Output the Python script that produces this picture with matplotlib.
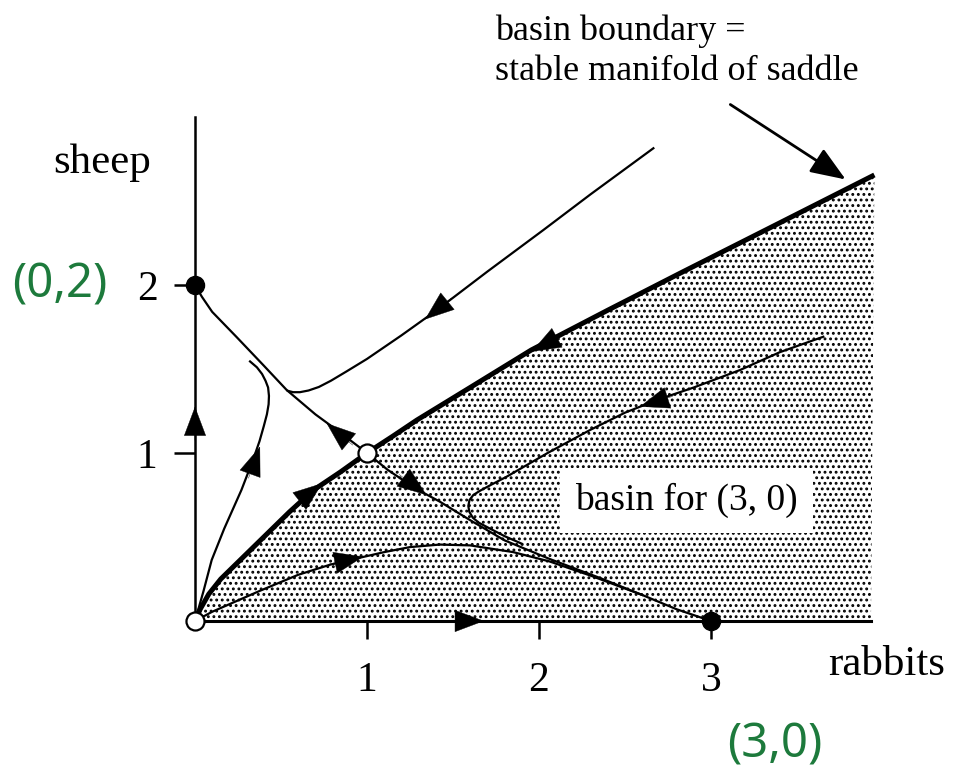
import matplotlib.pyplot as plt
import numpy as np

# rabbits (x) vs sheep (y) phase portrait
W, H = 958, 781

# basin boundary = stable manifold of the saddle at (1, 1)
bound_x = [0, 0.03, 0.08, 0.15, 0.26, 0.40, 0.55, 0.69, 0.85, 1.0, 1.15, 1.29, 1.6, 1.955, 2.4, 2.82, 3.4, 3.95]
bound_y = [0, 0.07, 0.16, 0.25, 0.36, 0.50, 0.65, 0.78, 0.89, 1.0, 1.10, 1.196, 1.39, 1.613, 1.85, 2.07, 2.37, 2.655]

# saddle -> (0, 2)
sad02_x = [1.0, 0.824, 0.7, 0.533, 0.4, 0.242, 0.1, 0.04, 0]
sad02_y = [1.0, 1.137, 1.23, 1.375, 1.52, 1.69, 1.84, 1.93, 2.0]

# saddle -> (3, 0)
sad30_x = [1.0, 1.12, 1.28, 1.424, 1.6, 1.8, 2.06, 2.355, 2.6, 2.8, 3.0]
sad30_y = [1.0, 0.90, 0.79, 0.71, 0.60, 0.48, 0.37, 0.256, 0.155, 0.07, 0]

# orbit out of the origin bending back toward the upper separatrix
up_x = [0, 0.05, 0.097, 0.17, 0.27, 0.337, 0.375, 0.40, 0.418, 0.428, 0.43, 0.425, 0.41, 0.39, 0.36, 0.32]
up_y = [0, 0.18, 0.363, 0.55, 0.78, 0.958, 1.07, 1.16, 1.23, 1.29, 1.34, 1.39, 1.43, 1.47, 1.51, 1.545]

# low orbit out of the origin that ends at (3, 0)
low_x = [0, 0.1, 0.2, 0.378, 0.6, 0.785, 0.93, 1.1, 1.25, 1.424, 1.6, 1.85, 2.06, 2.3, 2.6]
low_y = [0, 0.055, 0.1, 0.18, 0.275, 0.335, 0.37, 0.41, 0.44, 0.455, 0.45, 0.41, 0.355, 0.27, 0.155]

# orbit coming in from the upper right, above the boundary
top_x = [2.665, 2.3, 2.025, 1.7, 1.405, 1.2, 1.0, 0.88, 0.79, 0.72, 0.66, 0.61, 0.57, 0.54]
top_y = [2.814, 2.54, 2.327, 2.08, 1.85, 1.70, 1.56, 1.485, 1.43, 1.393, 1.372, 1.362, 1.362, 1.37]

# orbit coming in from the right, below the boundary
rt_x = [3.653, 3.4, 3.169, 2.9, 2.684, 2.5, 2.297, 2.05, 1.812, 1.72, 1.66, 1.618, 1.596, 1.589, 1.595, 1.615, 1.65, 1.715, 1.8, 1.9]
rt_y = [1.692, 1.6, 1.494, 1.39, 1.315, 1.24, 1.137, 1.0, 0.859, 0.81, 0.777, 0.75, 0.72, 0.685, 0.65, 0.615, 0.585, 0.55, 0.505, 0.46]

# arrowheads: tip position and direction of flow
arr_x = [0, 0.378, 0.765, 0.74, 1.346, 0.979, 1.68, 1.337, 1.957, 2.587]
arr_y = [1.276, 1.038, 1.177, 0.82, 0.75, 0.383, 0, 1.795, 1.603, 1.276]
arr_dx = [0, 0.05, -0.117, 0.15, 0.116, 0.136, 1, -0.106, -0.107, -0.155]
arr_dy = [1, 0.14, 0.1, 0.12, -0.089, 0.03, 0, -0.088, -0.06, -0.05]

stable_x, stable_y = [0, 3], [2, 0]
unstable_x, unstable_y = [0, 1], [0, 1]

x_max, y_top = 3.93, 3.0

serif = 'Liberation Serif'
green = '#1d7a3c'

plt.rcParams['hatch.linewidth'] = 1.3

fig = plt.figure(figsize=(W / 100, H / 100), dpi=100)
ax = fig.add_axes([195 / W, 160 / H, 688 / W, 504 / H])
ax.set_xlim(0, 4.0)
ax.set_ylim(0, 3.0)
for s in ax.spines.values():
    s.set_visible(False)

# stippled basin of (3, 0)
ax.fill(bound_x + [x_max, 0], bound_y + [0, 0], facecolor='white', edgecolor='black',
        hatch='...', linewidth=0, zorder=1)

# axes drawn as plain lines
ax.plot([0, 0], [0, y_top], color='black', lw=1.8, clip_on=False, zorder=3)
ax.plot([0, x_max], [0, 0], color='black', lw=2.2, clip_on=False, zorder=3)

ax.plot(bound_x, bound_y, color='black', lw=3.6, solid_capstyle='butt', zorder=4)
for xs, ys in [(sad02_x, sad02_y), (sad30_x, sad30_y), (up_x, up_y), (low_x, low_y),
               (top_x, top_y), (rt_x, rt_y)]:
    ax.plot(xs, ys, color='black', lw=1.6, zorder=4)

# flow arrows
for x, y, dx, dy in zip(arr_x, arr_y, arr_dx, arr_dy):
    n = np.hypot(dx, dy)
    ax.annotate('', xy=(x, y), xytext=(x - 0.2 * dx / n, y - 0.2 * dy / n),
                arrowprops=dict(arrowstyle='-|>,head_length=0.85,head_width=0.32',
                                color='black', lw=0.3, shrinkA=0, shrinkB=0,
                                mutation_scale=24), zorder=5)

# fixed points
ax.plot(stable_x, stable_y, 'o', ms=13, color='black', clip_on=False, zorder=6)
ax.plot(unstable_x, unstable_y, 'o', ms=13, mfc='white', mec='black', mew=1.6,
        clip_on=False, zorder=6)

ax.set_xticks([1, 2, 3])
ax.set_yticks([1, 2])
ax.set_xticklabels(['1', '2', '3'], fontsize=30, family=serif)
ax.set_yticklabels(['1', '2'], fontsize=30, family=serif)
ax.tick_params(axis='x', direction='out', length=13, width=1.8, pad=16)
ax.tick_params(axis='y', direction='out', length=15, width=1.8, pad=12)

fig.text(53 / W, 1 - 173 / H, 'sheep', fontsize=31, family=serif, ha='left', va='baseline')
fig.text(828 / W, 1 - 675 / H, 'rabbits', fontsize=31, family=serif, ha='left', va='baseline')
fig.text(495 / W, 1 - 40 / H, 'basin boundary =', fontsize=26, family=serif, ha='left', va='baseline')
fig.text(495 / W, 1 - 80 / H, 'stable manifold of saddle', fontsize=26, family=serif,
         ha='left', va='baseline')
fig.text(575 / W, 1 - 510 / H, 'basin for (3, 0)', fontsize=27, family=serif, ha='left',
         va='baseline', zorder=7,
         bbox=dict(facecolor='white', edgecolor='none', boxstyle='square,pad=0.4'))

# pointer from the caption to the boundary
fig.add_artist(plt.matplotlib.patches.FancyArrowPatch(
    (728 / W, 1 - 103 / H), (848 / W, 1 - 181 / H), transform=fig.transFigure,
    arrowstyle='-|>,head_length=0.9,head_width=0.35', mutation_scale=24,
    color='black', lw=2))

# handwritten labels for the stable nodes
fig.text(60 / W, 1 - 285 / H, '(0,2)', fontsize=34, color=green, family='Noto Sans',
         fontweight='light', ha='center', va='center')
fig.text(775 / W, 1 - 745 / H, '(3,0)', fontsize=34, color=green, family='Noto Sans',
         fontweight='light', ha='center', va='center')

fig.savefig('out.png', dpi=100)
